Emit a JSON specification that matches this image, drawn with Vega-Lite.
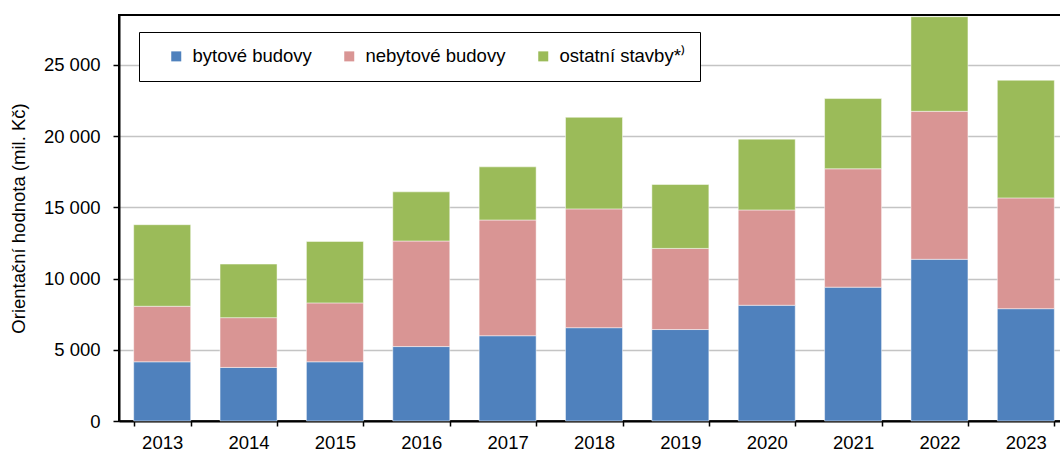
{
  "$schema": "https://vega.github.io/schema/vega-lite/v6.json",
  "width": 950,
  "height": 406,
  "autosize": {"type": "none"},
  "padding": {"left": 119, "top": 15, "right": 0, "bottom": 31},
  "background": "white",
  "config": {
    "font": "Liberation Sans",
    "view": {"stroke": "black", "strokeWidth": 2},
    "axis": {"labelFont": "Liberation Sans", "titleFont": "Liberation Sans", "labelColor": "black", "titleColor": "black"},
    "legend": {"strokeWidth": 1}
  },
  "data": {
    "values": [
      {"rok": "2013", "druh": "bytové budovy", "hodnota": 4155, "o": 1},
      {"rok": "2013", "druh": "nebytové budovy", "hodnota": 3900, "o": 2},
      {"rok": "2013", "druh": "ostatní stavby", "hodnota": 5725, "o": 3},
      {"rok": "2014", "druh": "bytové budovy", "hodnota": 3760, "o": 1},
      {"rok": "2014", "druh": "nebytové budovy", "hodnota": 3495, "o": 2},
      {"rok": "2014", "druh": "ostatní stavby", "hodnota": 3760, "o": 3},
      {"rok": "2015", "druh": "bytové budovy", "hodnota": 4155, "o": 1},
      {"rok": "2015", "druh": "nebytové budovy", "hodnota": 4135, "o": 2},
      {"rok": "2015", "druh": "ostatní stavby", "hodnota": 4315, "o": 3},
      {"rok": "2016", "druh": "bytové budovy", "hodnota": 5225, "o": 1},
      {"rok": "2016", "druh": "nebytové budovy", "hodnota": 7410, "o": 2},
      {"rok": "2016", "druh": "ostatní stavby", "hodnota": 3450, "o": 3},
      {"rok": "2017", "druh": "bytové budovy", "hodnota": 5985, "o": 1},
      {"rok": "2017", "druh": "nebytové budovy", "hodnota": 8125, "o": 2},
      {"rok": "2017", "druh": "ostatní stavby", "hodnota": 3730, "o": 3},
      {"rok": "2018", "druh": "bytové budovy", "hodnota": 6550, "o": 1},
      {"rok": "2018", "druh": "nebytové budovy", "hodnota": 8340, "o": 2},
      {"rok": "2018", "druh": "ostatní stavby", "hodnota": 6430, "o": 3},
      {"rok": "2019", "druh": "bytové budovy", "hodnota": 6420, "o": 1},
      {"rok": "2019", "druh": "nebytové budovy", "hodnota": 5695, "o": 2},
      {"rok": "2019", "druh": "ostatní stavby", "hodnota": 4485, "o": 3},
      {"rok": "2020", "druh": "bytové budovy", "hodnota": 8125, "o": 1},
      {"rok": "2020", "druh": "nebytové budovy", "hodnota": 6690, "o": 2},
      {"rok": "2020", "druh": "ostatní stavby", "hodnota": 4970, "o": 3},
      {"rok": "2021", "druh": "bytové budovy", "hodnota": 9395, "o": 1},
      {"rok": "2021", "druh": "nebytové budovy", "hodnota": 8310, "o": 2},
      {"rok": "2021", "druh": "ostatní stavby", "hodnota": 4930, "o": 3},
      {"rok": "2022", "druh": "bytové budovy", "hodnota": 11350, "o": 1},
      {"rok": "2022", "druh": "nebytové budovy", "hodnota": 10390, "o": 2},
      {"rok": "2022", "druh": "ostatní stavby", "hodnota": 6640, "o": 3},
      {"rok": "2023", "druh": "bytové budovy", "hodnota": 7885, "o": 1},
      {"rok": "2023", "druh": "nebytové budovy", "hodnota": 7775, "o": 2},
      {"rok": "2023", "druh": "ostatní stavby", "hodnota": 8260, "o": 3}
    ]
  },
  "mark": {"type": "bar", "stroke": "white", "strokeWidth": 0.8, "strokeOpacity": 0.6},
  "encoding": {
    "x": {
      "field": "rok",
      "type": "ordinal",
      "scale": {"paddingInner": 0.34, "paddingOuter": 0.17},
      "axis": {
        "title": null,
        "labelAngle": 0,
        "labelFontSize": 18.5,
        "labelPadding": 7,
        "tickBand": "extent",
        "tickSize": 5,
        "tickColor": "black",
        "tickWidth": 1.5,
        "domainColor": "black",
        "domainWidth": 2
      }
    },
    "y": {
      "field": "hodnota",
      "type": "quantitative",
      "stack": "zero",
      "scale": {"domain": [0, 28500], "nice": false, "zero": true},
      "axis": {
        "title": "Orientační hodnota (mil. Kč)",
        "titleFontSize": 18.5,
        "titleFontWeight": "normal",
        "titlePadding": 15,
        "values": [0, 5000, 10000, 15000, 20000, 25000],
        "labelExpr": "replace(format(datum.value, ','), ',', ' ')",
        "labelFontSize": 18.5,
        "labelPadding": 13,
        "tickSize": 6,
        "tickColor": "black",
        "tickWidth": 1.5,
        "domainColor": "black",
        "domainWidth": 2,
        "grid": true,
        "gridColor": "#c4c4c4",
        "gridWidth": 1.5
      }
    },
    "color": {
      "field": "druh",
      "type": "nominal",
      "scale": {
        "domain": ["bytové budovy", "nebytové budovy", "ostatní stavby"],
        "range": ["#4f81bd", "#d99594", "#9bbb59"]
      },
      "legend": {
        "title": null,
        "orient": "none",
        "legendX": 20,
        "legendY": 17,
        "direction": "horizontal",
        "fillColor": "white",
        "strokeColor": "black",
        "padding": 15,
        "symbolType": "square",
        "symbolSize": 100,
        "symbolStrokeWidth": 0,
        "symbolOpacity": 1,
        "symbolOffset": 13,
        "labelOffset": 7,
        "columnPadding": 15,
        "labelFont": "Liberation Sans",
        "labelFontSize": 18.5,
        "labelColor": "black",
        "labelLimit": 400,
        "labelExpr": "datum.label == 'ostatní stavby' ? 'ostatní stavby*⁾' : datum.label"
      }
    },
    "order": {"field": "o", "type": "quantitative"}
  }
}
